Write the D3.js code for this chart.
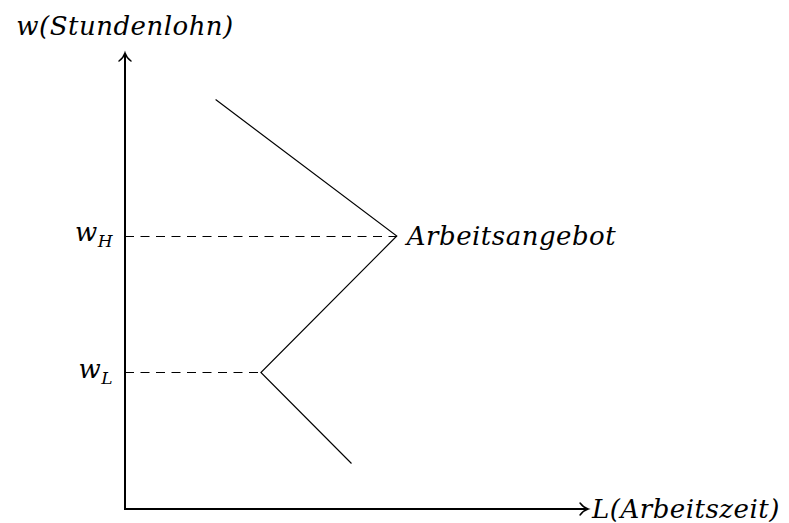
<!DOCTYPE html>
<html><head><meta charset="utf-8">
<script src="https://cdn.jsdelivr.net/npm/d3@7"></script>
<style>body{margin:0;background:#fff}svg{display:block}text{font-family:"DejaVu Serif","Liberation Serif",serif;font-style:italic;fill:#000;letter-spacing:0.5px}</style>
</head><body><svg id="c" width="789" height="523"></svg>
<script>
const curveL = [2, 6, 3, 5];
const curveW = [9, 6, 3, 1];
const levelW = [6, 3];
const levelL = [6, 3];
const levelMain = ["w", "w"];
const levelSub = ["H", "L"];
const axisMax = [10.2, 10];
const yTitle = "w(Stundenlohn)";
const xTitle = "L(Arbeitszeit)";
const curveLabel = "Arbeitsangebot";

const svg = d3.select("#c");
const x = d3.scaleLinear().domain([0, 10]).range([125, 578]);
const y = d3.scaleLinear().domain([0, 10]).range([509, 54]);
const crisp = v => Math.round(v) + 0.5;

// dashed guides
svg.selectAll("line.g").data(levelW).join("line")
  .attr("x1", x(0)).attr("x2", (d,i)=>x(levelL[i])).attr("y1", d=>crisp(y(d))).attr("y2", d=>crisp(y(d)))
  .attr("stroke", "#000").attr("stroke-width", 1).attr("stroke-dasharray", "9,6.5");

// curve
svg.append("path").datum(curveL.map((l,i)=>[l, curveW[i]]))
  .attr("d", d3.line().x(d=>x(d[0])).y(d=>y(d[1])))
  .attr("fill", "none").attr("stroke", "#000").attr("stroke-width", 1.15);

// axes
svg.append("line").attr("x1", x(0)-1).attr("y1", y(0)).attr("x2", x(axisMax[0])).attr("y2", y(0))
  .attr("stroke", "#000").attr("stroke-width", 2);
svg.append("line").attr("x1", x(0)).attr("y1", y(0)+1).attr("x2", x(0)).attr("y2", y(axisMax[1]))
  .attr("stroke", "#000").attr("stroke-width", 2);

// arrowheads (TikZ style)
function arrow(px, py, rot){
  svg.append("path")
    .attr("d", "M-7,-6 C-4,-2 -1,-0.6 1,0 C-1,0.6 -4,2 -7,6")
    .attr("transform", `translate(${px},${py}) rotate(${rot})`)
    .attr("fill","none").attr("stroke","#000").attr("stroke-width",1.5).attr("stroke-linecap","round");
}
arrow(x(axisMax[0]), y(0), 0);
arrow(x(0), y(axisMax[1]), -90);

// axis titles
svg.append("text").attr("x", x(0)).attr("y", 35).attr("text-anchor","middle")
  .attr("font-size", 26).text(yTitle);
svg.append("text").attr("x", x(axisMax[0])+5).attr("y", y(0)+9)
  .attr("font-size", 26).text(xTitle);

// curve label
svg.append("text").attr("x", x(curveL[1])+10).attr("y", y(curveW[1])+9)
  .attr("font-size", 26).text(curveLabel);

// level labels
levelW.forEach((w,i)=>{
  const t = svg.append("text").attr("x", x(0)-12).attr("y", y(w)+5).attr("text-anchor","end").attr("font-size",26);
  t.append("tspan").text(levelMain[i]);
  t.append("tspan").attr("font-size",17).attr("dy",6).text(levelSub[i]);
});
</script></body></html>
